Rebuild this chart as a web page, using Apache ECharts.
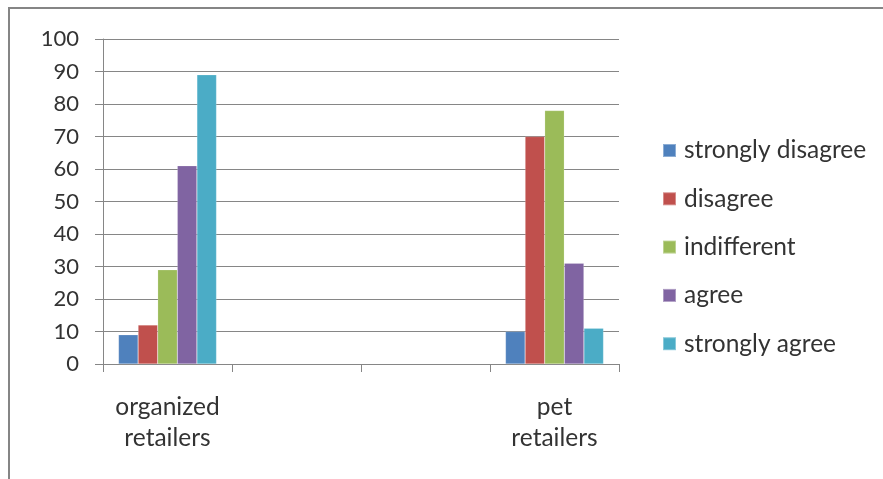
<!DOCTYPE html>
<html>
<head>
<meta charset="utf-8">
<script src="https://cdn.jsdelivr.net/npm/echarts@6/dist/echarts.min.js"></script>
<style>html,body{margin:0;padding:0;background:#fff}#c{width:883px;height:479px}</style>
</head>
<body>
<div id="c"></div>
<script>
const categories = ['organized\nretailers', '', '', 'pet\nretailers'];
const seriesNames = ['strongly disagree', 'disagree', 'indifferent', 'agree', 'strongly agree'];
const stronglyDisagree = [9, null, null, 10];
const disagree = [12, null, null, 70];
const indifferent = [29, null, null, 78];
const agree = [61, null, null, 31];
const stronglyAgree = [89, null, null, 11];
const yTicks = [0, 10, 20, 30, 40, 50, 60, 70, 80, 90, 100];
const colors = ['#4F81BD', '#C0504D', '#9BBB59', '#8064A2', '#4BACC6'];

const values = [stronglyDisagree, disagree, indifferent, agree, stronglyAgree];
const font = 'Lato, "Open Sans", sans-serif';
const textColor = '#333333';

const chart = echarts.init(document.getElementById('c'), null, {renderer: 'canvas'});
chart.setOption({
  animation: false,
  color: colors,
  grid: {left: 103, right: 264, top: 39, bottom: 115, containLabel: false},
  legend: {
    orient: 'vertical',
    left: 662,
    top: 138,
    padding: 0,
    itemWidth: 13,
    itemHeight: 13,
    itemGap: 23.3,
    icon: 'rect',
    data: seriesNames,
    textStyle: {fontFamily: font, fontSize: 24.5, color: textColor, padding: [0, 0, 0, 3]}
  },
  xAxis: {
    type: 'category',
    data: categories,
    axisLine: {lineStyle: {color: '#868686', width: 1}},
    axisTick: {show: true, length: 8, lineStyle: {color: '#868686'}},
    axisLabel: {fontFamily: font, fontSize: 24.5, color: textColor, lineHeight: 31, margin: 28, interval: 0}
  },
  yAxis: {
    type: 'value',
    min: yTicks[0],
    max: yTicks[yTicks.length - 1],
    interval: yTicks[1] - yTicks[0],
    axisLine: {show: true, lineStyle: {color: '#868686', width: 1}},
    axisTick: {show: true, length: 8, lineStyle: {color: '#868686'}},
    splitLine: {lineStyle: {color: '#868686', width: 1}},
    axisLabel: {fontFamily: font, fontSize: 22, color: textColor, margin: 24}
  },
  graphic: [
    {type: 'line', shape: {x1: 8, y1: 8, x2: 883, y2: 8}, style: {stroke: '#858585', lineWidth: 2}},
    {type: 'line', shape: {x1: 9, y1: 8, x2: 9, y2: 479}, style: {stroke: '#858585', lineWidth: 2}}
  ],
  series: seriesNames.map((name, i) => ({
    name: name,
    type: 'bar',
    data: values[i],
    barGap: '0%',
    barCategoryGap: '24%',
    itemStyle: {color: colors[i], borderColor: 'rgba(255,255,255,0.35)', borderWidth: 0.5}
  }))
});
</script>
</body>
</html>
